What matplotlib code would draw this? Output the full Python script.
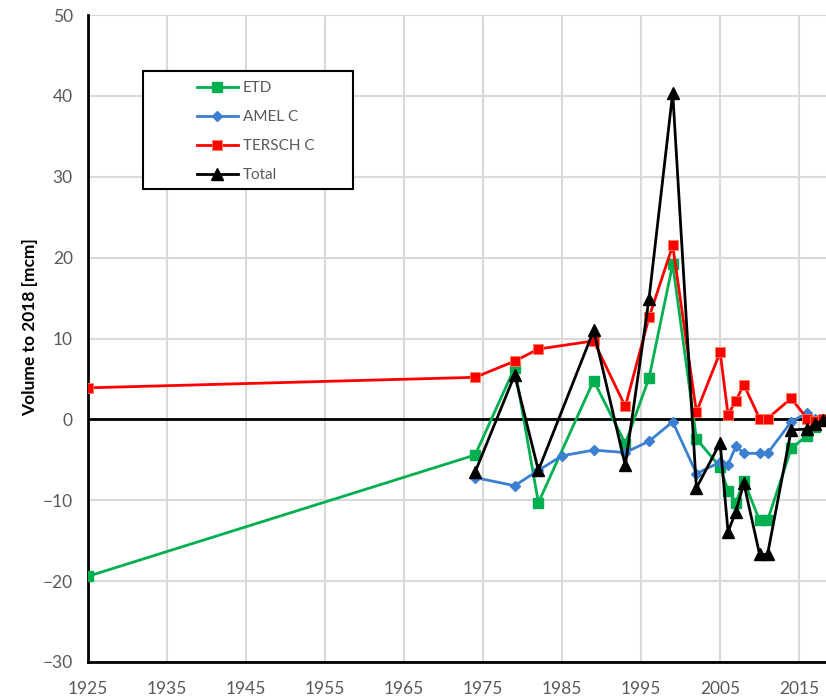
import matplotlib

matplotlib.use("Agg")
import matplotlib.pyplot as plt
from matplotlib.patches import Rectangle

# values (mcm, relative to 2018)
etd_years = [1925, 1974, 1979, 1982, 1989, 1993, 1996, 1999, 2002, 2005,
             2006, 2007, 2008, 2010, 2011, 2014, 2016, 2017, 2018]
etd = [-19.4, -4.4, 6.4, -10.3, 4.8, -3.0, 5.1, 19.2, -2.4, -5.9,
       -8.8, -10.3, -7.6, -12.5, -12.5, -3.6, -2.0, -1.0, -0.1]

amel_years = [1974, 1979, 1982, 1985, 1989, 1993, 1996, 1999, 2002, 2005,
              2006, 2007, 2008, 2010, 2011, 2014, 2016, 2017, 2018]
amel = [-7.2, -8.2, -6.3, -4.5, -3.8, -4.1, -2.7, -0.3, -6.7, -5.3,
        -5.6, -3.3, -4.2, -4.2, -4.2, -0.3, 0.8, 0.1, 0.0]

tersch_years = [1925, 1974, 1979, 1982, 1989, 1993, 1996, 1999, 2002, 2005,
                2006, 2007, 2008, 2010, 2011, 2014, 2016, 2017, 2018]
tersch = [3.9, 5.2, 7.2, 8.7, 9.7, 1.6, 12.6, 21.5, 0.9, 8.3,
          0.6, 2.3, 4.3, 0.1, 0.1, 2.6, 0.1, -0.2, 0.1]

total_years = [1974, 1979, 1982, 1989, 1993, 1996, 1999, 2002, 2005,
               2006, 2007, 2008, 2010, 2011, 2014, 2016, 2017, 2018]
total = [-6.5, 5.5, -6.3, 11.0, -5.7, 14.9, 40.4, -8.5, -2.9,
         -13.9, -11.4, -7.9, -16.7, -16.7, -1.3, -1.2, -0.6, -0.1]

x_ticks = list(range(1925, 2016, 10))
y_ticks = list(range(-30, 51, 10))

plt.rcParams["font.family"] = ["Lato", "DejaVu Sans"]

fig = plt.figure(figsize=(8.26, 7.0), dpi=100)
ax = fig.add_axes([88 / 826, 38 / 700, 738 / 826, 647 / 700])

ax.plot(etd_years, etd, color="#00B050", lw=2, marker="s", ms=7,
        label="ETD", zorder=3)
ax.plot(amel_years, amel, color="#3A7FD0", lw=2, marker="D", ms=5,
        label="AMEL C", zorder=4)
ax.plot(tersch_years, tersch, color="#FF0000", lw=2, marker="s", ms=7,
        mec="#FF7F50", mew=0.6, label="TERSCH C", zorder=5)
ax.plot(total_years, total, color="black", lw=2, marker="^", ms=8,
        label="Total", zorder=6)
ax.axhline(0, color="black", lw=2, zorder=2)

ax.set_xlim(1925, 2018.4)
ax.set_ylim(-30, 50)
ax.set_xticks(x_ticks)
ax.set_yticks(y_ticks)
ax.grid(color="#D9D9D9", lw=1.5, zorder=0)
ax.set_axisbelow(True)
ax.tick_params(length=0, labelsize=12.5, labelcolor="#595959")
ax.tick_params(axis="x", pad=14)
ax.tick_params(axis="y", pad=11)
for side in ("top", "right"):
    ax.spines[side].set_visible(False)
for side in ("left", "bottom"):
    ax.spines[side].set_linewidth(2)
    ax.spines[side].set_color("black")
ax.set_ylabel("Volume to 2018 [mcm]", fontsize=12.5, fontweight="bold")
ax.yaxis.set_label_coords(-0.068, 0.518)

# legend box drawn by hand: the entries sit well inside it
ax.add_patch(Rectangle((55 / 738, 473 / 647), 210 / 738, 118 / 647,
                       transform=ax.transAxes, fill=True, facecolor="white",
                       edgecolor="black", lw=1.5, zorder=7))
leg = ax.legend(loc="upper left", bbox_to_anchor=(0.139, 0.907),
                frameon=False, fontsize=11, labelspacing=0.98,
                handlelength=2.7, handletextpad=0.3, borderaxespad=0)
leg.set_zorder(8)
for text in leg.get_texts():
    text.set_color("#595959")

fig.savefig("out.png", dpi=100)
